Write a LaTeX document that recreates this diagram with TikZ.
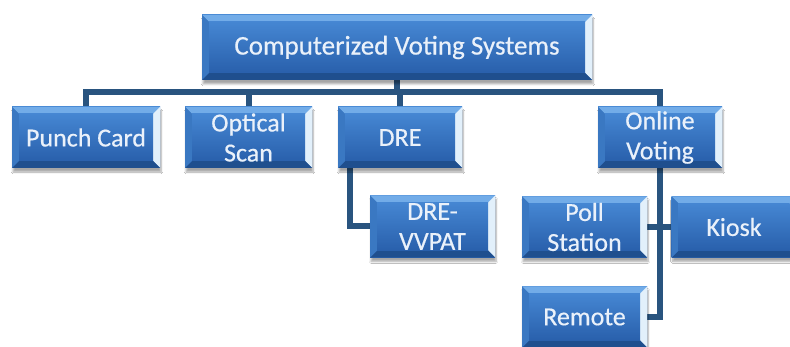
\documentclass[tikz,border=0pt]{standalone}
\usepackage{fontspec}
\setmainfont{Carlito}
\newfontfamily\labelfont{Carlito}[FakeBold=0.5]
\usetikzlibrary{calc,shadows.blur,backgrounds}

\definecolor{facetop}{HTML}{4586D2}
\definecolor{facebot}{HTML}{2960AC}
\definecolor{bevtop}{HTML}{72ACE8}
\definecolor{bevright}{HTML}{E2F0FB}
\definecolor{bevbot}{HTML}{1F4F8E}
\definecolor{bevleft}{HTML}{3A78C2}
\definecolor{linkcol}{HTML}{29547F}
\definecolor{labelcol}{HTML}{EAF1FA}

\newcommand{\bv}{7pt}

\tikzset{
  bevelbox/.style={
    rectangle, inner sep=0pt, align=center, text=labelcol,
    font=\labelfont\fontsize{26}{30}\selectfont,
    top color=facetop, bottom color=facebot,
    blur shadow={shadow xshift=1pt, shadow yshift=-4pt, shadow blur steps=6, shadow opacity=35},
    path picture={
      % top bevel
      \fill[bevtop]
        (path picture bounding box.north west) -- (path picture bounding box.north east)
        -- ($(path picture bounding box.north east)+(-\bv,-\bv)$)
        -- ($(path picture bounding box.north west)+(\bv,-\bv)$) -- cycle;
      % right bevel
      \fill[bevright]
        (path picture bounding box.north east) -- (path picture bounding box.south east)
        -- ($(path picture bounding box.south east)+(-\bv,\bv)$)
        -- ($(path picture bounding box.north east)+(-\bv,-\bv)$) -- cycle;
      % bottom bevel
      \fill[bevbot]
        (path picture bounding box.south west) -- (path picture bounding box.south east)
        -- ($(path picture bounding box.south east)+(-\bv,\bv)$)
        -- ($(path picture bounding box.south west)+(\bv,\bv)$) -- cycle;
      % left bevel
      \fill[bevleft]
        (path picture bounding box.north west) -- (path picture bounding box.south west)
        -- ($(path picture bounding box.south west)+(\bv,\bv)$)
        -- ($(path picture bounding box.north west)+(\bv,-\bv)$) -- cycle;
      % inner face
      \shade[top color=facetop, bottom color=facebot]
        ($(path picture bounding box.north west)+(\bv,-\bv)$)
        rectangle ($(path picture bounding box.south east)+(-\bv,\bv)$);
    }
  },
  link/.style={draw=linkcol, line width=6pt, line join=miter}
}

\begin{document}
\begin{tikzpicture}[x=1pt,y=-1pt]
  \useasboundingbox (0,0) rectangle (790,347);
  \clip (0,0) rectangle (790,347);

  % root
  \node[bevelbox, minimum width=390pt, minimum height=65pt,
        font=\labelfont\fontsize{27}{30}\selectfont] (top) at (397,47.5) {Computerized Voting Systems};

  % first level
  \node[bevelbox, minimum width=148pt, minimum height=61pt] (punch)   at (86,137.5)  {Punch Card};
  \node[bevelbox, minimum width=127pt, minimum height=61pt] (optical) at (248.5,137.5) {Optical\\Scan};
  \node[bevelbox, minimum width=124pt, minimum height=61pt] (dre)     at (400,137.5) {DRE};
  \node[bevelbox, minimum width=124pt, minimum height=61pt] (online)  at (660,137.5) {Online\\Voting};

  % second level
  \node[bevelbox, minimum width=125pt, minimum height=62pt] (vvpat)  at (432.5,226.5) {DRE-\\VVPAT};
  \node[bevelbox, minimum width=125pt, minimum height=61pt] (poll)   at (584.5,227)   {Poll\\Station};
  \node[bevelbox, minimum width=125pt, minimum height=61pt] (kiosk)  at (734,227)     {Kiosk};
  \node[bevelbox, minimum width=125pt, minimum height=61pt] (remote) at (584.5,317)   {Remote};

  \coordinate (bus) at (0,92);
  \coordinate (dreleg) at (350,0);

  \begin{scope}[on background layer]
    \fill[white] (0,0) rectangle (790,347);
    % root to first level
    \draw[link] (top.south) -- (top.south |- bus);
    \draw[link] (punch.north) -- (punch.north |- bus) -- (online.north |- bus) -- (online.north);
    \draw[link] (optical.north) -- (optical.north |- bus);
    \draw[link] (dre.north) -- (dre.north |- bus);
    % DRE branch
    \draw[link] (dreleg |- dre.south) |- (vvpat.west);
    % online voting branch
    \draw[link] (online.south) -- (online.south |- remote.east) -- (remote.east);
    \draw[link] (poll.east) -- (kiosk.west);
  \end{scope}
\end{tikzpicture}
\end{document}
